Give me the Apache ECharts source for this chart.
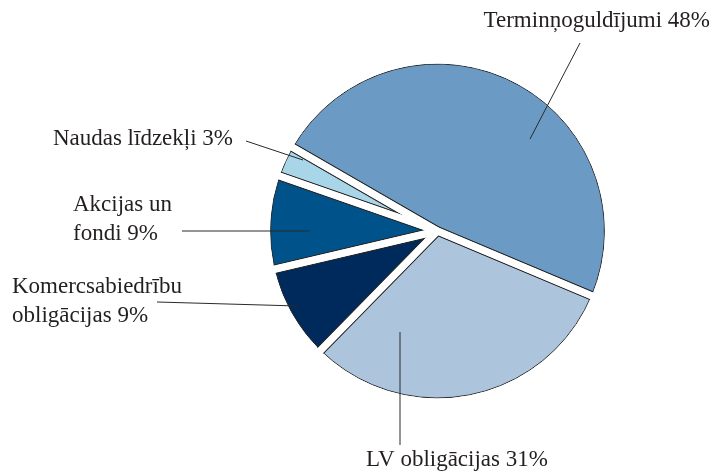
<!DOCTYPE html>
<html>
<head>
<meta charset="utf-8">
<script src="https://cdn.jsdelivr.net/npm/echarts@6/dist/echarts.min.js"></script>
<style>
  html, body { margin: 0; background: #fff; }
  #chart { width: 714px; height: 476px; }
</style>
</head>
<body>
<div id="chart"></div>
<script>
// data
const categories = [
  'Terminņoguldījumi',
  'LV obligācijas',
  'Komercsabiedrību\nobligācijas',
  'Akcijas un\nfondi',
  'Naudas līdzekļi'
];
const shares = [48, 31, 9, 9, 3];
const sliceColors = ['#6b9bc5', '#adc4dd', '#002a5b', '#00538a', '#a9d5e9'];

// label anchors and leader lines (from inside the slice out to the text)
const labelSpots = [
  { x: 710, y: 21, align: 'right', line: [[530, 139], [580, 43]] },
  { x: 457, y: 460, align: 'center', line: [[400, 332], [400, 445]] },
  { x: 12, y: 301, align: 'left', line: [[298, 306], [157, 302]] },
  { x: 73, y: 219, align: 'left', line: [[310, 231], [182, 231]] },
  { x: 233, y: 139, align: 'right', line: [[303, 160], [246, 141]] }
];

const CENTER = [437.5, 231];
const R = 167;
const GAP = 7;      // white gap between slices
const FAR = 620;    // radius big enough to run the gap lines off the pie

function pieLayer(radius, itemStyle, colors) {
  return {
    type: 'pie',
    center: CENTER,
    radius: radius,
    startAngle: 150,
    clockwise: true,
    silent: true,
    label: { show: false },
    labelLine: { show: false },
    emphasis: { disabled: true },
    itemStyle: itemStyle,
    data: shares.map((v, i) => ({
      name: categories[i],
      value: v,
      itemStyle: colors ? { color: colors[i] } : undefined
    }))
  };
}

const chart = echarts.init(document.getElementById('chart'));

const graphics = [];
labelSpots.forEach((s, i) => {
  graphics.push({
    type: 'polyline',
    z: 100,
    silent: true,
    shape: { points: s.line },
    style: { stroke: '#2a2a2a', lineWidth: 1, fill: null }
  });
  graphics.push({
    type: 'text',
    z: 100,
    silent: true,
    x: s.x,
    y: s.y,
    style: {
      text: categories[i] + ' ' + shares[i] + '%',
      font: '23px "Liberation Serif"',
      lineHeight: 29,
      fill: '#231f20',
      align: s.align,
      verticalAlign: 'middle'
    }
  });
});

chart.setOption({
  animation: false,
  series: [
    // filled slices with outline
    pieLayer([0, R], { borderColor: '#2a2a2a', borderWidth: 1 }, sliceColors),
    // dark edge of the gaps
    pieLayer([0, FAR], { color: 'rgba(0,0,0,0)', borderColor: '#2a2a2a', borderWidth: GAP + 2, borderJoin: 'bevel' }),
    // white gaps
    pieLayer([0, FAR], { color: 'rgba(0,0,0,0)', borderColor: '#ffffff', borderWidth: GAP, borderJoin: 'bevel' }),
    // white mask outside the pie
    {
      type: 'pie',
      center: CENTER,
      radius: [R + 0.5, FAR + 20],
      silent: true,
      label: { show: false },
      labelLine: { show: false },
      emphasis: { disabled: true },
      itemStyle: { color: '#ffffff', borderWidth: 0 },
      data: [{ value: 1 }]
    }
  ],
  graphic: graphics
});
</script>
</body>
</html>
